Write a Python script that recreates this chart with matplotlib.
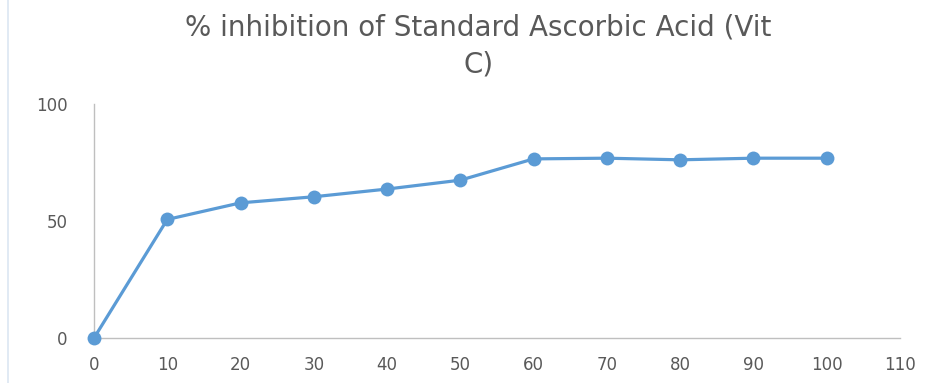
import matplotlib
matplotlib.use('Agg')
import matplotlib.pyplot as plt

# =============================================================================
# DATA
# =============================================================================

concentration = [0, 10, 20, 30, 40, 50, 60, 70, 80, 90, 100]
inhibition = [0, 50.7, 57.8, 60.4, 63.7, 67.5, 76.6, 76.9, 76.2, 76.9, 76.9]
x_ticks = [0, 10, 20, 30, 40, 50, 60, 70, 80, 90, 100, 110]
y_ticks = [0, 50, 100]
title = '% inhibition of Standard Ascorbic Acid (Vit\nC)'

# =============================================================================
# PLOT
# =============================================================================

text_col = '#595959'
axis_col = '#bfbfbf'
line_col = '#5b9bd5'

fig = plt.figure(figsize=(9.42, 3.83), dpi=100)
ax = fig.add_axes([0.0998, 0.1175, 0.8555, 0.6105])

ax.plot(concentration, inhibition, color=line_col, lw=2.3,
        marker='o', markersize=10, markeredgewidth=0, zorder=3,
        clip_on=False)

ax.set_xlim(0, 110)
ax.set_ylim(0, 100)
ax.set_xticks(x_ticks)
ax.set_yticks(y_ticks)
ax.tick_params(length=0, labelsize=12, labelcolor=text_col)
ax.tick_params(axis='x', pad=13)
ax.tick_params(axis='y', pad=19)
for lab in ax.get_xticklabels() + ax.get_yticklabels():
    lab.set_family('DejaVu Sans')

for s in ['top', 'right']:
    ax.spines[s].set_visible(False)
for s in ['left', 'bottom']:
    ax.spines[s].set_color(axis_col)
    ax.spines[s].set_linewidth(1.0)

fig.text(0.508, 0.965, title, ha='center', va='top', fontsize=20,
         color=text_col, family='DejaVu Sans', linespacing=1.4)

# faint frame edge on the left
fig.add_artist(plt.Line2D([0.009, 0.009], [0.0, 1.0], color='#dce6f2', lw=1.2))

fig.savefig('out.png', dpi=100)
